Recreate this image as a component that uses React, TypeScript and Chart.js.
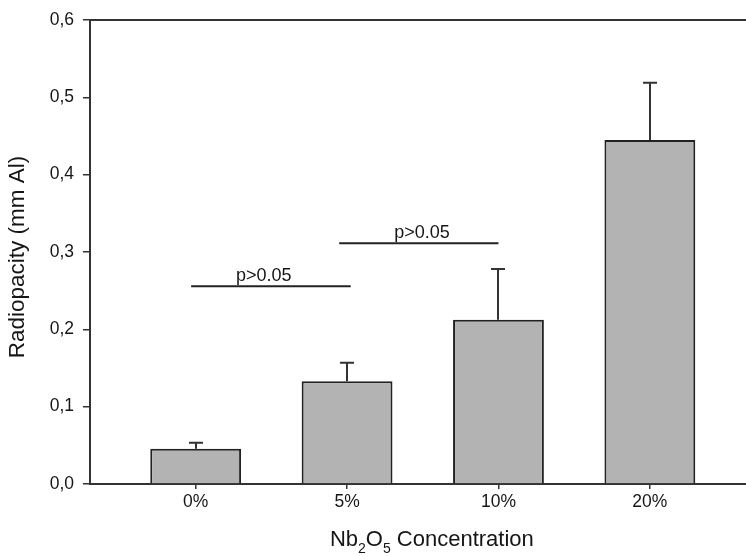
import React, { useEffect, useRef } from 'react';
import { Chart, registerables } from 'chart.js';

Chart.register(...registerables);

const categories = ['0%', '5%', '10%', '20%'];
const means = [0.0457, 0.1328, 0.2125, 0.4449];
const errorTops = [0.0534, 0.1569, 0.278, 0.519];
const yTickLabels = ['0,0', '0,1', '0,2', '0,3', '0,4', '0,5', '0,6'];
const bracketFrom = [-0.03, 0.948];
const bracketTo = [1.024, 2.0];
const bracketY = [0.2557, 0.3112];
const bracketLabelX = [0.45, 1.495];
const bracketLabels = ['p>0.05', 'p>0.05'];
const yTitle = 'Radiopacity (mm Al)';
const xTitleParts = [
  { t: 'Nb', sub: false },
  { t: '2', sub: true },
  { t: 'O', sub: false },
  { t: '5', sub: true },
  { t: ' Concentration', sub: false },
];

const FONT = "Arial, 'Liberation Sans', Helvetica, sans-serif";
const INK = '#161616';

const overlay = {
  id: 'overlay',
  afterDatasetsDraw(chart: any) {
    const ctx = chart.ctx as CanvasRenderingContext2D;
    const x = chart.scales.x;
    const y = chart.scales.y;
    const area = chart.chartArea;
    ctx.save();
    // top frame line
    ctx.strokeStyle = '#333';
    ctx.lineWidth = 2;
    ctx.beginPath();
    ctx.moveTo(area.left, area.top);
    ctx.lineTo(area.right, area.top);
    ctx.stroke();

    // error bars (upper only)
    ctx.strokeStyle = '#333';
    ctx.lineWidth = 2;
    means.forEach((m, i) => {
      const px = Math.round(x.getPixelForValue(i));
      const y0 = y.getPixelForValue(m);
      const y1 = y.getPixelForValue(errorTops[i]);
      ctx.beginPath();
      ctx.moveTo(px, y0);
      ctx.lineTo(px, y1);
      ctx.moveTo(px - 7, y1);
      ctx.lineTo(px + 7, y1);
      ctx.stroke();
    });

    // significance brackets
    ctx.lineWidth = 2;
    ctx.strokeStyle = '#222';
    ctx.fillStyle = INK;
    ctx.font = `18px ${FONT}`;
    ctx.textAlign = 'center';
    ctx.textBaseline = 'alphabetic';
    bracketY.forEach((v, i) => {
      const py = y.getPixelForValue(v);
      ctx.beginPath();
      ctx.moveTo(x.getPixelForValue(bracketFrom[i]), py);
      ctx.lineTo(x.getPixelForValue(bracketTo[i]), py);
      ctx.stroke();
      ctx.fillText(bracketLabels[i], x.getPixelForValue(bracketLabelX[i]), py - 5.5);
    });

    // y title
    ctx.save();
    ctx.translate(18, (area.top + area.bottom) / 2 + 5);
    ctx.rotate(-Math.PI / 2);
    ctx.font = `22.5px ${FONT}`;
    ctx.textAlign = 'center';
    ctx.textBaseline = 'middle';
    ctx.fillText(yTitle, 0, 0);
    ctx.restore();

    // x title with subscripts
    const mainFont = `22px ${FONT}`;
    const subFont = `14px ${FONT}`;
    let total = 0;
    xTitleParts.forEach((p) => {
      ctx.font = p.sub ? subFont : mainFont;
      total += ctx.measureText(p.t).width;
    });
    let cx = x.getPixelForValue(1.56) - total / 2;
    const base = area.bottom + 62;
    ctx.textAlign = 'left';
    ctx.textBaseline = 'alphabetic';
    xTitleParts.forEach((p) => {
      ctx.font = p.sub ? subFont : mainFont;
      ctx.fillText(p.t, cx, p.sub ? base + 7 : base);
      cx += ctx.measureText(p.t).width;
    });
    ctx.restore();
  },
};

export default function App() {
  const ref = useRef<HTMLCanvasElement>(null);
  useEffect(() => {
    if (!ref.current) return;
    const chart = new Chart(ref.current, {
      type: 'bar',
      data: {
        datasets: [
          {
            data: means.map((v, i) => ({ x: i, y: v })),
            backgroundColor: '#b3b3b3',
            borderColor: '#222',
            borderWidth: 2,
            borderSkipped: 'bottom',
            barPercentage: 0.6,
            categoryPercentage: 1,
          },
        ],
      },
      options: {
        animation: false,
        responsive: false,
        layout: { padding: { top: 20, right: 0, left: 0, bottom: 0 } },
        plugins: { legend: { display: false }, tooltip: { enabled: false }, title: { display: false } },
        scales: {
          x: {
            type: 'linear',
            min: -0.698,
            max: 3.635,
            offset: false,
            afterBuildTicks: (s: any) => {
              s.ticks = categories.map((_, i) => ({ value: i }));
            },
            afterFit: (s: any) => {
              s.height = 72;
            },
            ticks: {
              callback: (v: any) => categories[Math.round(Number(v))] ?? '',
              font: { family: FONT, size: 17.5 },
              color: INK,
              padding: 3,
              maxRotation: 0,
              autoSkip: false,
            },
            grid: { display: true, drawOnChartArea: false, drawTicks: true, tickLength: 5, color: '#333', lineWidth: 1.5, offset: false },
            border: { display: true, color: '#333', width: 2 },
          },
          y: {
            type: 'linear',
            min: 0,
            max: 0.6,
            afterBuildTicks: (s: any) => {
              s.ticks = yTickLabels.map((_, i) => ({ value: i / 10 }));
            },
            afterFit: (s: any) => {
              s.width = 90;
            },
            ticks: {
              callback: (_v: any, i: number) => yTickLabels[i],
              font: { family: FONT, size: 17.5 },
              color: INK,
              padding: 9,
            },
            grid: { display: true, drawOnChartArea: false, drawTicks: true, tickLength: 7, color: '#333', lineWidth: 1.5 },
            border: { display: true, color: '#333', width: 2 },
          },
        },
      },
      plugins: [overlay],
    });
    return () => chart.destroy();
  }, []);
  return (
    <div style={{ position: 'absolute', left: 0, top: 0, width: 746, height: 556, background: '#fff' }}>
      <canvas ref={ref} width={746} height={556} style={{ display: 'block' }} />
    </div>
  );
}
